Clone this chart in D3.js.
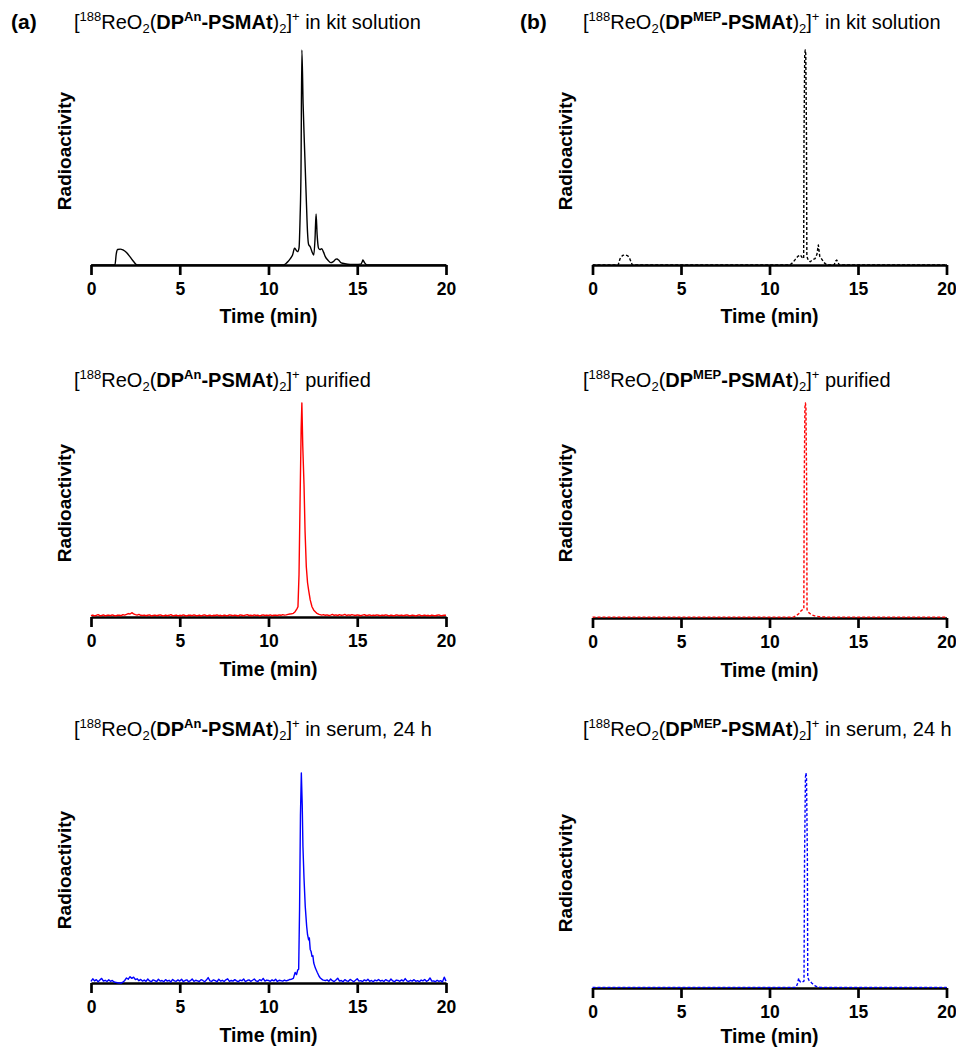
<!DOCTYPE html>
<html>
<head>
<meta charset="utf-8">
<script src="https://cdn.jsdelivr.net/npm/d3@7"></script>
<style>
  body { margin: 0; background: #fff; }
  svg { font-family: "Liberation Sans", Arial, sans-serif; }
</style>
</head>
<body>
<svg width="956" height="1048"></svg>
<script>
// ---- data (radioactivity in % of the main peak) ----
const ticks = [0, 5, 10, 15, 20];
const ligands = ["An", "MEP"];
const conditions = ["in kit solution", "purified", "in serum, 24 h"];
const panelLetters = ["(a)", "(b)"];

// (a) kit solution, black solid
const kitAnT = [0, 1.35, 1.42, 1.5, 1.65, 1.8, 2.0, 2.2, 2.4, 2.6, 10.85, 11.0, 11.1, 11.23, 11.35, 11.47, 11.55, 11.64,
  11.72, 11.78, 11.83, 11.88, 11.95, 12.02, 12.07, 12.14, 12.2, 12.26, 12.35, 12.45, 12.55, 12.62, 12.68, 12.74, 12.82,
  12.9, 13.0, 13.1, 13.2, 13.35, 13.5, 13.65, 13.8, 13.86, 13.95, 14.1, 14.3, 14.6, 14.9, 15.2, 15.28, 15.32, 15.4, 15.55, 20];
const kitAnV = [0, 0, 5, 7.2, 7.4, 7.0, 5.8, 3.8, 1.6, 0, 0, 0.8, 1.6, 3.0, 4.5, 7.8, 7.0, 6.2,
  8, 22, 43, 100, 75, 57, 45, 28, 15, 9.5, 8.5, 6.2, 4.6, 12, 23.7, 14, 7.8,
  7.2, 7.6, 6.0, 3.9, 2.2, 1.1, 1.6, 2.7, 2.8, 2.3, 1.0, 0.6, 0.3, 0.3, 0.4, 1.5, 2.3, 1.2, 0, 0];

// (b) kit solution, black dashed
const kitMepT = [0, 1.45, 1.55, 1.7, 1.85, 2.0, 2.1, 2.25, 11.15, 11.3, 11.45, 11.6, 11.74, 11.84, 11.93, 11.95, 11.99,
  12.02, 12.05, 12.09, 12.11, 12.2, 12.3, 12.45, 12.58, 12.68, 12.76, 12.84, 12.96, 13.1, 13.24, 13.65, 13.75, 13.8,
  13.88, 13.95, 20];
const kitMepV = [0, 0, 2.8, 4.5, 4.7, 4.2, 3.0, 0, 0, 1.0, 2.5, 4.0, 4.7, 3.5, 3.0, 60, 98,
  100, 98, 60, 4, 2, 1.5, 2.5, 3.0, 5, 9.3, 4, 2.6, 1, 0, 0, 2, 2.3,
  1, 0, 0];

// (a) purified, red solid: baseline 0-11.2 min (0.1 min steps), peak, tail 13.0-20 min
const purAnBase = [0.6,0.9,0.5,0.8,1.1,0.6,0.7,1.0,0.5,0.8, 0.9,0.6,1.0,0.7,0.5,0.9,0.8,0.6,1.1,0.9,
  1.2,1.6,1.4,2.0,1.5,1.1,0.9,1.2,0.8,0.7, 0.9,0.6,0.8,1.0,0.5,0.7,0.9,0.6,0.8,1.0,
  0.7,0.5,0.9,0.6,0.8,1.1,0.6,0.7,0.9,0.5, 0.8,0.6,1.0,0.7,0.5,0.9,0.8,0.6,1.0,0.7,
  0.6,0.9,0.5,0.8,1.0,0.6,0.7,0.9,0.5,0.8, 0.7,1.0,0.6,0.8,0.5,0.9,0.7,0.6,1.0,0.8,
  0.6,0.9,0.7,0.5,1.0,0.8,0.6,0.9,1.1,0.7, 0.8,0.6,1.0,0.7,0.9,0.5,0.8,1.0,0.7,0.9,
  0.7,1.0,0.6,0.8,0.9,0.7,1.0,0.8,1.1,0.9, 1.0,1.2,1.4];
const purAnPeakT = [11.3, 11.4, 11.5, 11.6, 11.66, 11.72, 11.78, 11.84, 11.88, 11.93, 12.0, 12.06, 12.13, 12.2, 12.26,
  12.35, 12.45, 12.55, 12.65, 12.73, 12.85, 12.95];
const purAnPeakV = [1.5, 1.7, 2.5, 3.8, 4.8, 20, 55, 88, 100, 80, 62, 40, 23.5, 16, 12.6, 8, 4.8, 3.2, 2.3, 1.7, 1.2, 1.0];
const purAnTail = [0.9,1.1,0.8,1.0,0.7,0.9,1.2,0.8,1.0,0.7, 1.1,0.8,0.9,1.2,0.7,1.0,0.8,1.1,0.9,0.7,
  1.0,0.8,0.6,0.9,1.1,0.7,0.8,1.0,0.6,0.9, 0.7,1.0,0.8,0.6,0.9,0.7,1.0,0.8,0.5,0.9,
  0.7,0.6,1.0,0.8,0.7,0.9,0.6,0.8,1.0,0.7, 0.6,0.9,0.7,0.5,0.8,1.0,0.6,0.7,0.9,0.6,
  0.8,0.5,0.9,0.7,0.6,0.8,1.0,0.6,0.7,0.9,0.8];

// (b) purified, red dashed
const purMepT = [0, 11.35, 11.5, 11.65, 11.8, 11.9, 11.94, 11.96, 12.0, 12.03, 12.06, 12.1, 12.12, 12.16, 12.22, 12.3,
  12.4, 12.55, 12.75, 13.0, 13.3, 20];
const purMepV = [0.4, 0.4, 1.0, 2.0, 3.5, 4.0, 4.2, 60, 98, 100, 98, 60, 4.0, 3.0, 2.5, 2.0,
  1.4, 1.0, 0.7, 0.5, 0.4, 0.4];

// (a) serum 24 h, blue solid: baseline 0-11.2 min, peak, tail 13.3-20 min
const serAnBase = [0.8,2.0,1.0,1.6,0.6,1.4,2.2,0.9,1.3,0.7, 1.5,0.8,1.2,0.5,0.3,0.1,0.0,0.0,0.4,1.2,
  2.4,1.8,3.0,2.2,2.8,1.6,2.0,1.1,1.7,0.9, 1.4,0.8,1.9,1.0,0.6,1.5,1.1,0.7,1.8,0.9,
  1.2,0.6,1.6,0.9,1.3,0.5,1.7,1.0,0.8,1.5, 0.9,1.8,0.7,1.2,1.5,0.6,1.1,1.9,0.8,1.3,
  1.0,0.7,1.6,1.2,0.6,1.4,2.6,1.0,0.8,1.5, 1.1,0.6,1.8,0.9,1.3,0.7,1.5,2.0,0.8,1.2,
  0.9,1.6,1.0,0.6,1.4,1.1,1.9,0.7,1.2,1.5, 0.8,1.3,1.9,1.0,0.7,1.6,1.1,2.2,0.9,1.4,
  1.2,0.8,1.5,1.0,1.8,0.7,1.3,1.1,0.9,1.4, 1.0,1.3,1.7];
const serAnPeakT = [11.3, 11.4, 11.5, 11.58, 11.65, 11.7, 11.75, 11.8, 11.85, 11.9, 11.94, 12.0, 12.07, 12.15, 12.2,
  12.26, 12.3, 12.35, 12.4, 12.45, 12.5, 12.55, 12.64, 12.75, 12.85, 12.92, 13.05, 13.2];
const serAnPeakV = [1.8, 2.2, 5.0, 4.0, 6.3, 6.5, 35, 80, 100, 85, 65, 50, 36.5, 27, 23,
  20.6, 21.5, 16, 15, 12.7, 13, 9.5, 7.1, 5, 3.2, 2.4, 1.5, 1.1];
const serAnTail = [1.5,0.8,1.9,1.1,0.7,1.4,2.3,0.9,1.2,0.6, 1.6,1.0,0.8,1.7,1.2,0.6,1.3,2.0,0.9,1.1,
  0.7,1.5,1.0,1.8,0.8,1.2,0.6,1.4,1.0,1.7, 0.9,1.3,0.7,1.6,1.1,0.8,1.9,1.0,0.6,1.4,
  1.2,0.8,1.5,0.9,2.1,1.0,0.7,1.3,0.9,1.6, 0.8,1.1,0.6,1.4,1.0,1.7,0.8,1.2,2.4,0.9,
  1.0,0.6,1.3,0.8,1.1,0.5,2.8,0.9];

// (b) serum 24 h, blue dashed
const serMepT = [0, 11.5, 11.58, 11.65, 11.72, 11.8, 11.86, 11.95, 11.98, 12.03, 12.06, 12.09, 12.14, 12.16, 12.22, 12.3,
  12.4, 12.5, 12.6, 12.75, 12.9, 20];
const serMepV = [0.3, 0.3, 2.0, 4.6, 3.0, 2.5, 2.8, 3.2, 60, 98, 100, 98, 60, 5, 3.7, 3.0,
  2.2, 1.5, 0.9, 0.4, 0.3, 0.3];

// ---- helpers ----
const zip = (t, v) => t.map((x, i) => [x, v[i]]);
const grid = (start, vals) => vals.map((v, i) => [+(start + i * 0.1).toFixed(2), v]);

const series = [
  { col: 0, row: 0, color: "#000", dash: null, pts: zip(kitAnT, kitAnV), curve: d3.curveMonotoneX },
  { col: 1, row: 0, color: "#000", dash: "3,2", pts: zip(kitMepT, kitMepV), curve: d3.curveLinear },
  { col: 0, row: 1, color: "#ff0000", dash: null,
    pts: grid(0, purAnBase).concat(zip(purAnPeakT, purAnPeakV), grid(13.0, purAnTail)), curve: d3.curveLinear },
  { col: 1, row: 1, color: "#ff0000", dash: "3,2", pts: zip(purMepT, purMepV), curve: d3.curveLinear },
  { col: 0, row: 2, color: "#0000ff", dash: null,
    pts: grid(0, serAnBase).concat(zip(serAnPeakT, serAnPeakV), grid(13.3, serAnTail)), curve: d3.curveLinear },
  { col: 1, row: 2, color: "#0000ff", dash: "3,2", pts: zip(serMepT, serMepV), curve: d3.curveLinear }
];

// ---- layout ----
const colX = [[91, 446], [592.5, 946.5]];
const axisY = [[265, 617, 983], [265, 618, 988]];
const topY = [50, 403, 773];
const titleY = [29, 387, 736];
const titleX = [74, 583];
const ylabX = [71, 572];
const ylabY = [[151, 503, 870], [151, 503, 873]];
const timeDy = [[58, 59, 59], [58, 59, 55]];

const svg = d3.select("svg");

panelLetters.forEach((l, c) => {
  svg.append("text").attr("x", c === 0 ? 11 : 520).attr("y", 29)
    .style("font-size", "21px").style("font-weight", "bold").text(l);
});

function drawTitle(x, y, lig, cond) {
  const t = svg.append("text").attr("x", x).attr("y", y).style("font-size", "20px");
  t.append("tspan").text("[");
  t.append("tspan").attr("dy", -8).style("font-size", "13px").text("188");
  t.append("tspan").attr("dy", 8).text("ReO");
  t.append("tspan").attr("dy", 4).style("font-size", "13px").text("2");
  t.append("tspan").attr("dy", -4).text("(");
  t.append("tspan").style("font-weight", "bold").text("DP");
  t.append("tspan").attr("dy", -8).style("font-weight", "bold").style("font-size", "13px").text(lig);
  t.append("tspan").attr("dy", 8).style("font-weight", "bold").text("-PSMAt");
  t.append("tspan").text(")");
  t.append("tspan").attr("dy", 4).style("font-size", "13px").text("2");
  t.append("tspan").attr("dy", -4).text("]");
  t.append("tspan").attr("dy", -8).style("font-size", "13px").text("+");
  t.append("tspan").attr("dy", 8).text(" " + cond);
}

series.forEach(s => {
  const c = s.col, r = s.row;
  const x = d3.scaleLinear().domain([0, 20]).range(colX[c]);
  const y = d3.scaleLinear().domain([0, 100]).range([axisY[c][r], topY[r]]);

  drawTitle(titleX[c], titleY[r], ligands[c], conditions[r]);

  svg.append("text")
    .attr("transform", `translate(${ylabX[c]},${ylabY[c][r]}) rotate(-90)`)
    .attr("text-anchor", "middle")
    .style("font-size", "19px").style("font-weight", "bold")
    .text("Radioactivity");

  const ax = svg.append("g")
    .attr("transform", `translate(0,${axisY[c][r]})`)
    .call(d3.axisBottom(x).tickValues(ticks).tickSize(10).tickSizeOuter(0).tickPadding(7.5));
  ax.select(".domain").attr("stroke", "#000").attr("stroke-width", 2.7);
  ax.selectAll(".tick line").attr("stroke", "#000").attr("stroke-width", 2.7);
  ax.selectAll(".tick text")
    .style("font-family", "'Liberation Sans', Arial, sans-serif")
    .style("font-size", "17.5px").style("font-weight", "bold").attr("fill", "#000");

  svg.append("text")
    .attr("x", (colX[c][0] + colX[c][1]) / 2).attr("y", axisY[c][r] + timeDy[c][r])
    .attr("text-anchor", "middle")
    .style("font-size", "19.5px").style("font-weight", "bold")
    .text("Time (min)");

  const line = d3.line().x(d => x(d[0])).y(d => y(d[1])).curve(s.curve);
  svg.append("path")
    .datum(s.pts)
    .attr("d", line)
    .attr("fill", "none")
    .attr("stroke", s.color)
    .attr("stroke-width", 1.4)
    .attr("stroke-dasharray", s.dash)
    .attr("stroke-linejoin", "round");
});
</script>
</body>
</html>
